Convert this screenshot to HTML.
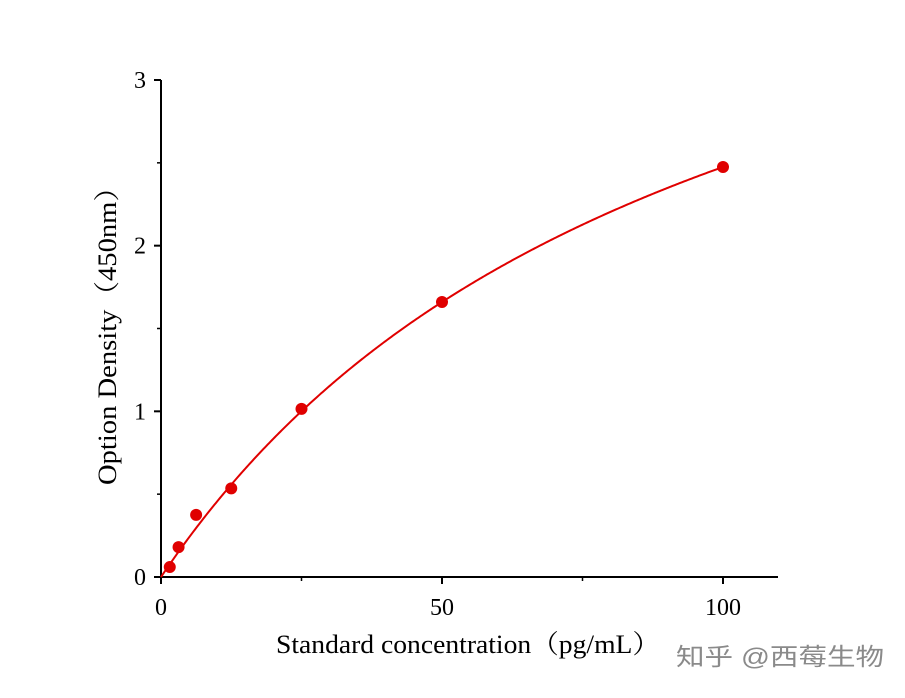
<!DOCTYPE html>
<html><head><meta charset="utf-8"><style>
body{margin:0;background:#fff}
svg text{font-family:"Liberation Serif","Noto Serif CJK SC",serif;fill:#000}
</style></head><body>
<svg id="chart" width="905" height="693" xmlns="http://www.w3.org/2000/svg">
<g id="axes"></g><g id="plot"></g>
<text x="276" y="653" font-size="26" textLength="384" lengthAdjust="spacingAndGlyphs">Standard concentration（pg/mL）</text>
<text transform="translate(116,485) rotate(-90)" font-size="26" textLength="312" lengthAdjust="spacingAndGlyphs">Option Density（450nm）</text>
<text x="676" y="665" font-size="24" textLength="208" lengthAdjust="spacingAndGlyphs" style="fill:#8a8a8a;font-family:'Liberation Sans','Noto Sans CJK SC',sans-serif">知乎 @西莓生物</text>
</svg>
<script>
const concentrations=[1.5625,3.125,6.25,12.5,25,50,100];
const odValues=[0.06,0.18,0.375,0.535,1.015,1.66,2.475];
const xTicks=[0,50,100];
const xMinorTicks=[25,75];
const yTicks=[0,1,2,3];
const yMinorTicks=[0.5,1.5,2.5];
const fitCoef=[4.863,96.5];
const X=v=>161+v*5.62, Y=v=>577-v*165.67;
const ns="http://www.w3.org/2000/svg";
const axes=document.getElementById('axes'), plot=document.getElementById('plot');
function mk(p,tag,a){const e=document.createElementNS(ns,tag);for(const k in a)e.setAttribute(k,a[k]);p.appendChild(e);return e;}
let l=mk(axes,'line',{x1:161,y1:577,x2:778,y2:577,stroke:'#000','stroke-width':2});


l=mk(axes,'line',{x1:161,y1:578,x2:161,y2:80,stroke:'#000','stroke-width':2});


xTicks.forEach(v=>{mk(axes,'line',{x1:X(v),y1:577,x2:X(v),y2:584,stroke:'#000','stroke-width':2});
const t=mk(axes,'text',{x:X(v),y:615,'font-size':24,'text-anchor':'middle'});t.textContent=v;

});
xMinorTicks.forEach(v=>mk(axes,'line',{x1:X(v),y1:577,x2:X(v),y2:581,stroke:'#000','stroke-width':1.5}));
yTicks.forEach(v=>{mk(axes,'line',{x1:154,y1:Y(v),x2:161,y2:Y(v),stroke:'#000','stroke-width':2});
const t=mk(axes,'text',{x:146,y:Y(v)+8,'font-size':24,'text-anchor':'end'});t.textContent=v;

});
yMinorTicks.forEach(v=>mk(axes,'line',{x1:157,y1:Y(v),x2:161,y2:Y(v),stroke:'#000','stroke-width':1.5}));
let d='';for(let i=0;i<=400;i++){const x=i*0.25;const y=fitCoef[0]*x/(fitCoef[1]+x);d+=(i?'L':'M')+X(x).toFixed(2)+','+Y(y).toFixed(2);}
const c=mk(plot,'path',{d:d,fill:'none',stroke:'#e00000','stroke-width':2});


concentrations.forEach((x,i)=>{const p=mk(plot,'circle',{cx:X(x),cy:Y(odValues[i]),r:6,fill:'#e00000'});

});
</script>
</body></html>
